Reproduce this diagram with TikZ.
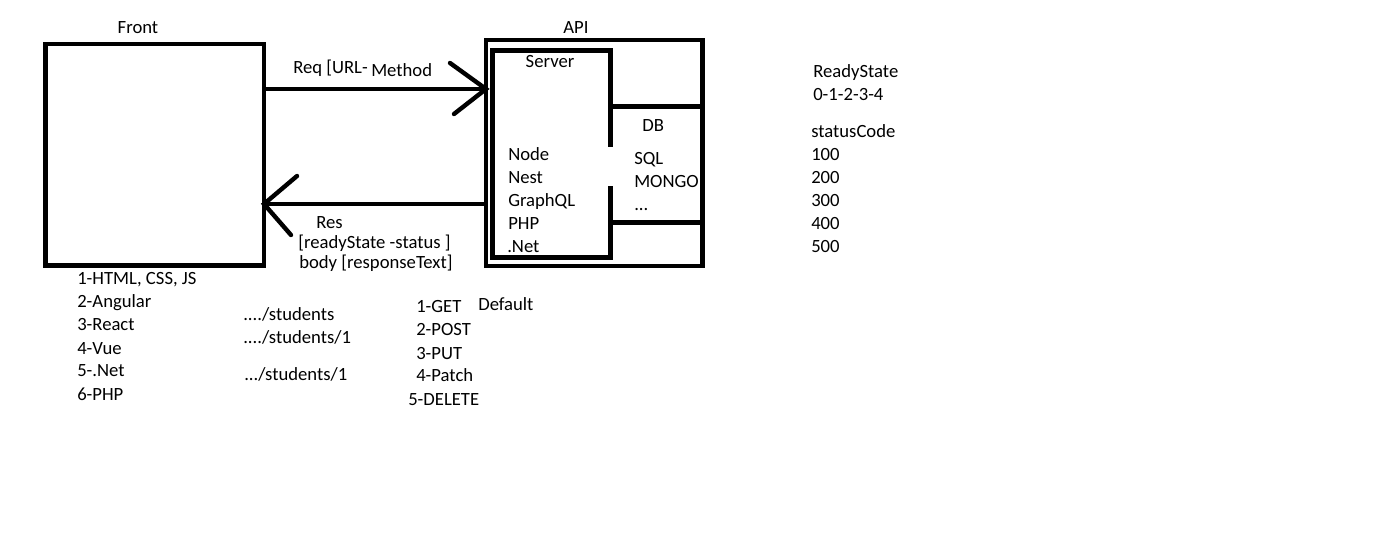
\documentclass[tikz,border=0pt]{standalone}
\usepackage{fontspec}
\setmainfont{Carlito}
\begin{document}
\begin{tikzpicture}[x=0.75pt,y=-0.75pt,
  box/.style={line width=3.6pt},
  conn/.style={line width=3.3pt},
  barb/.style={line width=3.3pt,line cap=round},
  lbl/.style={anchor=base west,inner sep=0pt,yshift=-0.75pt,font=\fontsize{14}{17}\selectfont},
  clbl/.style={anchor=base,inner sep=0pt,yshift=-0.75pt,font=\fontsize{14}{17}\selectfont}]
\useasboundingbox[fill=white] (0,0) rectangle (1400,552);

% Front box
\coordinate (frontNW) at (45.5,44);
\coordinate (frontSE) at (264,265.5);
\draw[box] (frontNW) rectangle (frontSE);
\node[clbl] (front) at (138,33) {Front};

% API outer box
\coordinate (apiNW) at (486,40);
\coordinate (apiSE) at (702.5,266);
\draw[line width=3.2pt] (apiNW) rectangle (apiSE);
\node[clbl] (api) at (576,33) {API};

% Server box (right side has a gap)
\draw[box] (610.5,147) -- (610.5,50.5) -- (492.5,50.5) -- (492.5,257.5) -- (610.5,257.5) -- (610.5,186);
\node[clbl] (server) at (550,67) {Server};

% DB lines
\draw[box] (610.5,106.5) -- (702.5,106.5);
\draw[box] (610.5,222.5) -- (702.5,222.5);

% Req arrow
\coordinate (reqS) at (265,89);
\coordinate (reqT) at (486,89);
\coordinate (reqA) at (450,63);
\coordinate (reqB) at (454,114);
\draw[conn] (reqS) -- (reqT);
\draw[barb] (reqA) -- (reqT) -- (reqB);

% Res arrow
\coordinate (resS) at (486,204);
\coordinate (resT) at (264,204);
\coordinate (resA) at (297,176);
\coordinate (resB) at (291,235);
\draw[conn] (resS) -- (resT);
\draw[barb] (resA) -- (resT) -- (resB);

% Labels on arrows
\node[lbl] (req) at (293,73) {Req [URL-};
\node[lbl] (method) at (371,76) {Method};
\node[lbl] (res) at (316,228) {Res};
\node[lbl] (rs) at (298,248) {[readyState -status ]};
\node[lbl] (body) at (299,268) {body [responseText]};

% Server list
\node[lbl] (s1) at (508,160) {Node};
\node[lbl] (s2) at (508,183) {Nest};
\node[lbl] (s3) at (508,206) {GraphQL};
\node[lbl] (s4) at (508,229) {PHP};
\node[lbl] (s5) at (507,252) {.Net};

% DB list
\node[lbl] (db) at (642,131) {DB};
\node[lbl] (d1) at (634,164) {SQL};
\node[lbl] (d2) at (634,187) {MONGO};
\node[lbl] (d3) at (634,210) {...};

% Right lists
\node[lbl] (rstate) at (813,77) {ReadyState};
\node[lbl] (rnums) at (813,100) {0-1-2-3-4};
\node[lbl] (scode) at (811,137) {statusCode};
\node[lbl] (c1) at (811,160) {100};
\node[lbl] (c2) at (811,183) {200};
\node[lbl] (c3) at (811,206) {300};
\node[lbl] (c4) at (811,229) {400};
\node[lbl] (c5) at (811,252) {500};

% Front list
\node[lbl] (f1) at (77,284) {1-HTML, CSS, JS};
\node[lbl] (f2) at (77,307) {2-Angular};
\node[lbl] (f3) at (77,330) {3-React};
\node[lbl] (f4) at (77,353) {4-Vue};
\node[lbl] (f5) at (77,376) {5-.Net};
\node[lbl] (f6) at (77,399) {6-PHP};

% URLs
\node[lbl] (u1) at (243,320) {..../students};
\node[lbl] (u2) at (243,343) {..../students/1};
\node[lbl] (u3) at (244,380) {.../students/1};

% Methods
\node[lbl] (m1) at (416,312) {1-GET};
\node[lbl] (mdef) at (478,310) {Default};
\node[lbl] (m2) at (416,335) {2-POST};
\node[lbl] (m3) at (416,358) {3-PUT};
\node[lbl] (m4) at (416,381) {4-Patch};
\node[lbl] (m5) at (408,404) {5-DELETE};
\end{tikzpicture}
\end{document}
